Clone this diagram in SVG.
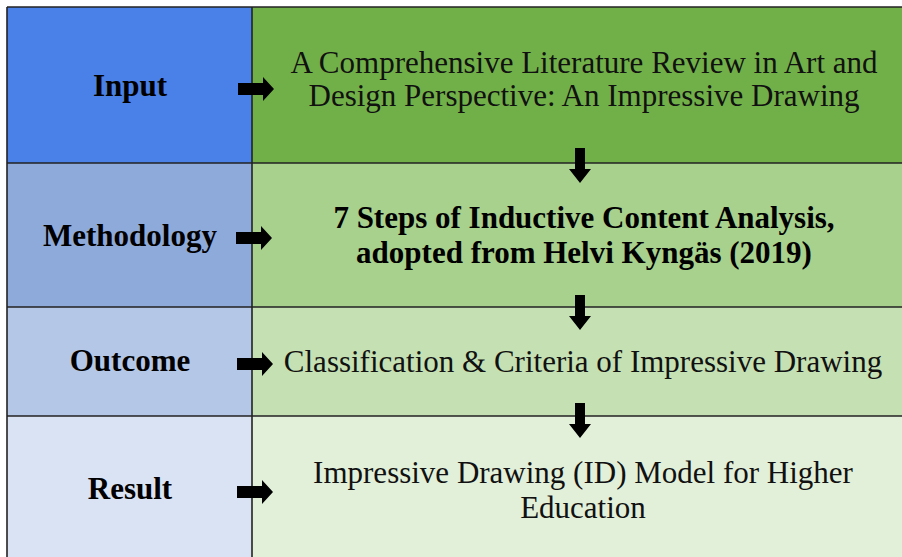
<svg xmlns="http://www.w3.org/2000/svg" xmlns:xlink="http://www.w3.org/1999/xlink" width="902" height="557" viewBox="0 0 902 557">
<style>
text{font-family:'Liberation Serif','Tinos','Times New Roman','DejaVu Serif',serif;font-size:31px;text-anchor:middle;fill:#000}
.lbl{font-weight:bold}
.txt{fill:#111}
.txtb{font-weight:bold}
.grid{stroke:#222;stroke-width:1.6;fill:none}
</style>
<defs>
<path id="ar" d="M-36,-6 L-11,-6 L-11,-12 L0,0 L-11,12 L-11,6 L-36,6 Z" fill="#000"/>
<path id="ad" d="M-5,0 L5,0 L5,21 L11,21 L0,35 L-11,21 L-5,21 Z" fill="#000"/>
</defs>
<rect width="902" height="557" fill="#fff"/>
<g id="input">
<rect x="7" y="7" width="245" height="156" fill="#4A81E8"/>
<rect x="252" y="7" width="650" height="156" fill="#71B048"/>
<text class="lbl" x="130" y="96">Input</text>
<text class="txt" x="584" y="73">A Comprehensive Literature Review in Art and</text>
<text class="txt" x="584" y="106">Design Perspective: An Impressive Drawing</text>
</g>
<g id="methodology">
<rect x="7" y="163" width="245" height="144" fill="#8EAADB"/>
<rect x="252" y="163" width="650" height="144" fill="#A8D18D"/>
<text class="lbl" x="130" y="246">Methodology</text>
<text class="txtb" x="584" y="228">7 Steps of Inductive Content Analysis,</text>
<text class="txtb" x="584" y="263">adopted from Helvi Kyngäs (2019)</text>
</g>
<g id="outcome">
<rect x="7" y="307" width="245" height="109" fill="#B4C7E7"/>
<rect x="252" y="307" width="650" height="109" fill="#C5E0B3"/>
<text class="lbl" x="130" y="371">Outcome</text>
<text class="txt" x="583" y="372">Classification &amp; Criteria of Impressive Drawing</text>
</g>
<g id="result">
<rect x="7" y="416" width="245" height="141" fill="#DAE3F3"/>
<rect x="252" y="416" width="650" height="141" fill="#E2EFD9"/>
<text class="lbl" x="130" y="499">Result</text>
<text class="txt" x="583" y="483">Impressive Drawing (ID) Model for Higher</text>
<text class="txt" x="583" y="518">Education</text>
</g>
<g id="grid" class="grid">
<line x1="7" y1="7" x2="902" y2="7"/>
<line x1="7" y1="7" x2="7" y2="557"/>
<line x1="252" y1="7" x2="252" y2="557"/>
<line x1="7" y1="163" x2="902" y2="163"/>
<line x1="7" y1="307" x2="902" y2="307"/>
<line x1="7" y1="416" x2="902" y2="416"/>
</g>
<g id="connectors">
<use xlink:href="#ar" transform="translate(274,89)"/>
<use xlink:href="#ar" transform="translate(272,238)"/>
<use xlink:href="#ar" transform="translate(273,364)"/>
<use xlink:href="#ar" transform="translate(273,492)"/>
<use xlink:href="#ad" transform="translate(580,148)"/>
<use xlink:href="#ad" transform="translate(580,295)"/>
<use xlink:href="#ad" transform="translate(580,403)"/>
</g>
</svg>
